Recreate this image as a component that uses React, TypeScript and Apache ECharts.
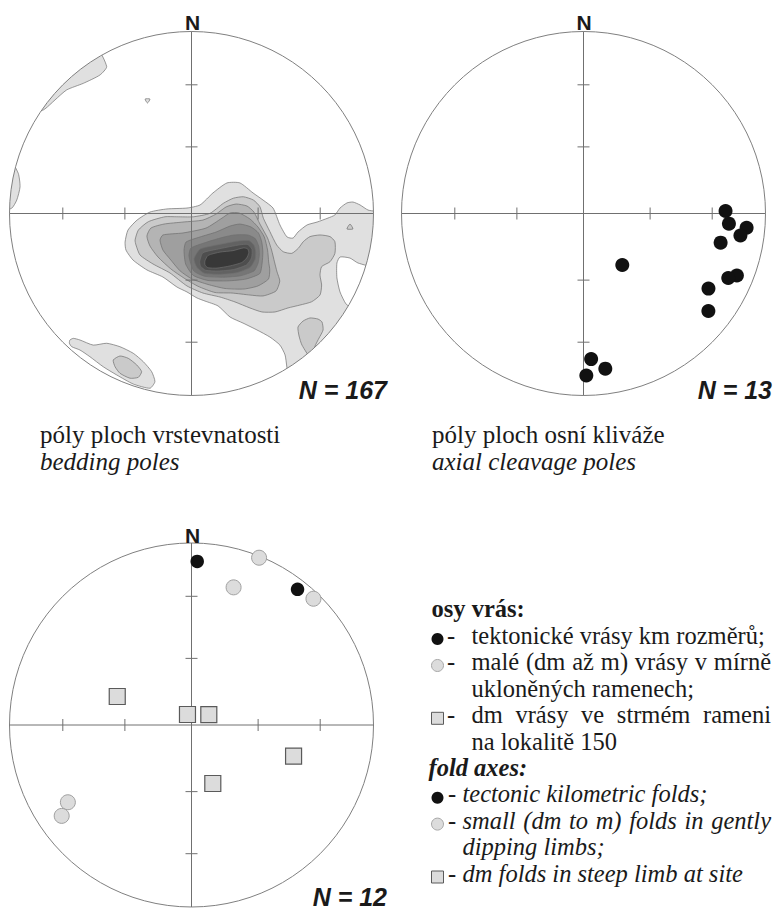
import { useEffect, useRef } from 'react';
import * as echarts from 'echarts';

// ---------- net definition ----------
const NET_RADIUS = 100; // primitive circle radius in net units
const TICK_PLUNGES = [30, 60]; // plunge values marked on the cross axes

// ---------- plot 2: axial cleavage poles [trend, plunge] ----------
const cleavagePoles: number[][] = [
  [89, 23], [94, 21], [95, 11], [98, 14], [102, 24], [143, 61], [112, 10],
  [114, 14], [121, 21], [128, 14], [177, 21], [172, 15], [179, 12],
];

// ---------- plot 3: fold axes [trend, plunge] ----------
const kmFoldAxes: number[][] = [[2, 11], [38, 6]];
const smallFoldAxes: number[][] = [[22, 1], [17, 22], [44, 4], [238, 21], [235, 14]];
const steepLimbFoldAxes: number[][] = [[291, 54], [339, 85], [59, 81], [107, 41], [160, 62]];

// ---------- plot 1: bedding-pole density contours (net units, % of primitive radius) ----------
const contourL1Main = [
  [-36.5, -15.7], [-34.9, -9.1], [-29.9, -3.6], [-22.8, 0.8], [-13.5, 2.5], [-2.5, 3.0], [4.7, 4.7],
  [11.8, 11.3], [19.5, 16.8], [26.6, 16.8], [33.8, 11.3], [39.3, 7.4], [44.8, 3.0], [48.6, -6.3],
  [52.5, -12.9], [55.8, -13.5], [58.5, -10.2], [63.5, -6.3], [69.0, -4.7], [75.0, -2.5], [78.8, -0.8],
  [81.6, 3.0], [85.4, 5.8], [88.7, 6.3], [92.6, 4.7], [97.0, 1.9], [105, 0], [104.0, -14.6],
  [100.9, -28.9], [91.5, -27.2], [87.1, -24.5], [81.6, -23.9], [79.9, -27.2], [79.9, -35.4],
  [81.6, -43.1], [84.9, -49.7], [90.0, -54.1], [74.2, -74.2], [54.1, -90.0], [51.4, -77.7],
  [48.6, -72.3], [43.1, -67.9], [36.0, -64.0], [28.3, -60.2], [21.2, -56.9], [14.6, -50.8],
  [7.4, -48.1], [3.0, -46.4], [-2.5, -43.1], [-8.0, -40.4], [-15.7, -34.9], [-24.5, -31.0],
  [-32.1, -25.6], [-36.0, -20.1],
];
const contourL1NW = [
  [-89.05, 55.64], [-72.94, 75.53], [-52.5, 90.93], [-46.6, 80.7], [-50.3, 76.1], [-59.5, 71.5],
  [-68.6, 67.9], [-75.0, 62.4], [-81.4, 56.9],
];
const contourL1W = [
  [-104.98, 1.83], [-103.7, 16.4], [-100.4, 30.7], [-95.2, 22.1], [-94.2, 14.7], [-96.0, 7.4], [-98.8, 2.9],
];
const contourL1Speck = [[-25.5, 62.9], [-22.8, 62.9], [-24.2, 60.7]];
const contourL1SW = [
  [-66.8, -69.5], [-64.9, -68.6], [-61.3, -69.5], [-54.0, -72.3], [-46.6, -71.3], [-39.3, -73.2],
  [-32.0, -76.8], [-26.5, -81.4], [-21.9, -86.9], [-20.1, -92.4], [-22.8, -96.0], [-32.0, -93.7],
  [-41.1, -88.7], [-48.5, -84.2], [-55.8, -78.7], [-61.3, -75.0], [-65.8, -73.2], [-67.1, -71.3],
];
const contourL2Main = [
  [-31.0, -14.6], [-29.2, -9.1], [-23.7, -4.5], [-14.6, -1.8], [-8.1, -1.8], [1.0, -1.8], [10.2, 0.1],
  [17.5, 5.6], [23.0, 8.4], [28.5, 9.2], [34.0, 7.4], [37.6, 3.7], [39.5, -2.6], [43.1, -10.0],
  [46.8, -17.3], [50.4, -21.0], [55.1, -21.9], [58.7, -19.1], [61.4, -15.5], [65.1, -12.7],
  [70.6, -11.8], [76.1, -12.7], [78.8, -15.5], [78.8, -21.9], [76.1, -26.5], [71.5, -29.2],
  [70.6, -33.8], [71.5, -39.3], [70.6, -44.8], [66.0, -48.5], [59.6, -50.3], [53.0, -51.9],
  [45.9, -54.1], [38.7, -54.1], [32.1, -51.9], [23.9, -48.6], [15.7, -45.9], [6.3, -43.7],
  [-2.5, -39.8], [-11.8, -32.7], [-21.2, -27.7], [-28.3, -22.8], [-30.5, -17.3],
];
const contourL2SE = [
  [58.5, -62.4], [61.3, -59.1], [65.1, -57.4], [69.5, -58.0], [71.7, -59.6], [72.3, -64.0],
  [70.1, -68.4], [67.9, -72.8], [66.0, -80.0], [60.7, -72.3], [59.1, -67.3],
];
const contourL2Drop = [[87.1, -5.8], [88.7, -8.5], [85.4, -8.5]];
const contourL2SW = [
  [-43.0, -80.5], [-39.3, -78.3], [-34.7, -79.6], [-30.1, -83.2], [-27.4, -86.9], [-29.2, -90.0],
  [-33.8, -90.5], [-39.3, -87.8], [-42.0, -84.2],
];
const contourL3 = [
  [-24.5, -12.4], [-22.3, -8.0], [-15.1, -5.8], [-4.7, -4.7], [6.3, -3.6], [13.5, -0.3], [19.0, 3.6],
  [24.5, 5.2], [30.5, 4.1], [34.3, 0.8], [37.6, -5.8], [41.8, -13.5], [44.0, -20.1], [45.6, -26.6],
  [47.0, -32.1], [48.5, -37.1], [46.4, -42.6], [39.3, -45.3], [32.1, -44.8], [22.3, -43.7],
  [12.9, -43.4], [3.6, -40.0], [-4.1, -35.5], [-11.3, -30.5], [-18.4, -23.9], [-22.8, -17.9],
];
const contourL4 = [
  [-17.3, -14.6], [-15.7, -11.8], [-4.7, -10.7], [8.0, -8.0], [16.8, -2.5], [21.2, 0.3], [26.1, 0.3],
  [32.1, -3.0], [36.5, -7.4], [40.0, -12.9], [41.8, -20.1], [42.4, -26.6], [43.0, -31.0], [42.3, -36.0],
  [36.5, -39.8], [28.8, -41.5], [18.4, -41.2], [9.1, -39.0], [0.3, -36.0], [-6.3, -31.5],
  [-11.8, -25.0], [-15.7, -20.1],
];
const contourL5 = [
  [-4.1, -20.1], [-3.0, -15.7], [4.7, -12.9], [13.5, -10.2], [21.2, -6.9], [26.6, -5.8], [32.7, -7.4],
  [36.8, -10.7], [38.6, -15.7], [39.2, -21.2], [38.8, -27.2], [37.5, -33.0], [29.9, -36.0],
  [20.1, -37.0], [9.1, -36.8], [1.0, -34.0], [-3.2, -27.8],
];
const contourL6 = [
  [-1.4, -23.4], [-0.3, -19.0], [6.9, -16.2], [15.7, -13.5], [23.4, -11.8], [31.0, -11.8], [35.0, -13.8],
  [36.9, -17.9], [37.3, -22.3], [36.6, -27.2], [34.4, -31.5], [27.0, -34.2], [17.9, -35.0],
  [7.4, -34.5], [1.2, -31.5],
];
const contourL7 = [
  [1.4, -25.0], [4.7, -19.6], [14.0, -17.3], [25.0, -15.2], [31.5, -14.9], [34.3, -17.4], [35.2, -20.6],
  [35.0, -25.0], [32.3, -29.5], [24.5, -32.6], [15.7, -33.4], [7.0, -32.8], [3.0, -29.6],
];
const contourL8 = [
  [4.5, -26.4], [6.3, -21.6], [15.7, -19.3], [26.6, -17.2], [30.8, -17.0], [33.2, -19.6], [33.0, -24.3],
  [30.3, -28.2], [23.0, -30.8], [14.6, -31.6], [7.8, -31.2], [5.0, -29.0],
];
const contourL9 = [
  [7.4, -26.0], [9.1, -23.0], [15.7, -21.2], [22.8, -20.4], [28.5, -18.9], [30.8, -19.4], [31.5, -21.5],
  [30.3, -24.5], [27.5, -27.0], [21.2, -28.8], [14.0, -30.0], [9.1, -29.8], [7.4, -28.3],
];

const CONTOUR_FILLS = ['#e0e0e0', '#cacaca', '#b4b4b4', '#9f9f9f', '#8a8a8a', '#767676', '#626262', '#4e4e4e', '#383838'];

const bedContours = [
  { level: 1, ring: contourL1Main }, { level: 1, ring: contourL1NW }, { level: 1, ring: contourL1W },
  { level: 1, ring: contourL1Speck }, { level: 1, ring: contourL1SW },
  { level: 2, ring: contourL2Main }, { level: 2, ring: contourL2SE }, { level: 2, ring: contourL2Drop },
  { level: 2, ring: contourL2SW },
  { level: 3, ring: contourL3 }, { level: 4, ring: contourL4 }, { level: 5, ring: contourL5 },
  { level: 6, ring: contourL6 }, { level: 7, ring: contourL7 }, { level: 8, ring: contourL8 },
  { level: 9, ring: contourL9 },
];

// ---------- texts ----------
const northLabel = 'N';
const countLabels = ['N = 167', 'N = 13', 'N = 12'];
const captionCz = ['póly ploch vrstevnatosti', 'póly ploch osní kliváže'];
const captionEn = ['bedding poles', 'axial cleavage poles'];
const legendTitleCz = 'osy vrás:';
const legendItemsCz = [
  ['tektonické vrásy km rozměrů;'],
  ['malé (dm až m) vrásy v mírně', 'ukloněných ramenech;'],
  ['dm vrásy ve strmém rameni', 'na lokalitě 150'],
];
const legendTitleEn = 'fold axes:';
const legendItemsEn = [
  ['tectonic kilometric folds;'],
  ['small (dm to m) folds in gently', 'dipping limbs;'],
  ['dm folds in steep limb at site'],
];

const SERIF = 'Liberation Serif';
const SANS = 'Liberation Sans';

function schmidt(tp: number[]) {
  const [trend, plunge] = tp;
  const r = NET_RADIUS * Math.SQRT2 * Math.sin(((90 - plunge) / 2) * Math.PI / 180);
  const t = trend * Math.PI / 180;
  return [r * Math.sin(t), r * Math.cos(t)];
}

let measureCtx: CanvasRenderingContext2D | null = null;
function measure(text: string, font: string) {
  if (!measureCtx) measureCtx = document.createElement('canvas').getContext('2d');
  measureCtx!.font = font;
  return measureCtx!.measureText(text).width;
}

function netRenderer(withMask: boolean) {
  return (_params: any, api: any) => {
    const c = api.coord([0, 0]);
    const R = api.size([NET_RADIUS, 0])[0];
    const children: any[] = [];
    if (withMask) {
      children.push({ type: 'ring', shape: { cx: c[0], cy: c[1], r: R * 1.09, r0: R }, style: { fill: '#ffffff' } });
    }
    children.push({ type: 'circle', shape: { cx: c[0], cy: c[1], r: R }, style: { fill: 'none', stroke: '#808080', lineWidth: 1 } });
    children.push({ type: 'line', shape: { x1: c[0] - R, y1: c[1], x2: c[0] + R, y2: c[1] }, style: { stroke: '#707070', lineWidth: 1 } });
    children.push({ type: 'line', shape: { x1: c[0], y1: c[1] - R, x2: c[0], y2: c[1] + R }, style: { stroke: '#707070', lineWidth: 1 } });
    TICK_PLUNGES.forEach((p) => {
      const r = R * Math.SQRT2 * Math.sin(((90 - p) / 2) * Math.PI / 180);
      [-1, 1].forEach((s) => {
        children.push({ type: 'line', shape: { x1: c[0] + s * r, y1: c[1] - 6, x2: c[0] + s * r, y2: c[1] + 6 }, style: { stroke: '#707070', lineWidth: 1 } });
        children.push({ type: 'line', shape: { x1: c[0] - 6, y1: c[1] + s * r, x2: c[0] + 6, y2: c[1] + s * r }, style: { stroke: '#707070', lineWidth: 1 } });
      });
    });
    return { type: 'group', children };
  };
}

function buildOption() {
  const grids = [
    { left: 9.5, top: 31.5, width: 364, height: 364 },
    { left: 401.5, top: 31.5, width: 364, height: 364 },
    { left: 9.5, top: 543, width: 364, height: 364 },
  ];
  const axis = grids.map((_, i) => ({ type: 'value', gridIndex: i, min: -NET_RADIUS, max: NET_RADIUS, show: false }));

  const series: any[] = [];
  series.push({
    type: 'custom', xAxisIndex: 0, yAxisIndex: 0, z: 2, silent: true,
    data: bedContours.map((_, i) => [0, 0, i]),
    renderItem: (params: any, api: any) => {
      const c = bedContours[params.dataIndex];
      return {
        type: 'polygon', z2: c.level,
        shape: { points: c.ring.map((p) => api.coord(p)), smooth: 0.2 },
        style: { fill: CONTOUR_FILLS[c.level - 1], stroke: '#6e6e6e', lineWidth: 0.7 },
      };
    },
  });
  [0, 1, 2].forEach((i) => {
    series.push({
      type: 'custom', xAxisIndex: i, yAxisIndex: i, z: 3, silent: true,
      data: [[0, 0]], renderItem: netRenderer(i === 0),
    });
  });
  const sc = (name: string, idx: number, data: number[][], symbol: string, size: number, itemStyle: any) => ({
    type: 'scatter', name, xAxisIndex: idx, yAxisIndex: idx, z: 4, silent: true,
    symbol, symbolSize: size, itemStyle: { opacity: 1, ...itemStyle },
    data: data.map(schmidt),
  });
  series.push(sc('axial cleavage poles', 1, cleavagePoles, 'circle', 14, { color: '#111111' }));
  series.push(sc('tectonic kilometric folds', 2, kmFoldAxes, 'circle', 13.5, { color: '#111111' }));
  series.push(sc('small folds', 2, smallFoldAxes, 'circle', 15, { color: '#dcdcdc', borderColor: '#a0a0a0', borderWidth: 1 }));
  series.push(sc('steep limb folds', 2, steepLimbFoldAxes, 'rect', 16, { color: '#dcdcdc', borderColor: '#5a5a5a', borderWidth: 1.2 }));

  // ---------- graphic texts ----------
  const g: any[] = [];
  const txt = (x: number, y: number, text: string, o: any = {}) =>
    g.push({ type: 'text', x, y, z: 100, silent: true, style: { text, fill: '#1a1a1a', textVerticalAlign: 'middle', textAlign: 'left', ...o } });

  const nStyle = { fontFamily: SANS, fontWeight: 'bold', fontSize: 21, textAlign: 'center' };
  txt(192.5, 22.7, northLabel, nStyle);
  txt(584, 22.7, northLabel, nStyle);
  txt(192.5, 535.8, northLabel, nStyle);

  const cStyle = { fontFamily: SANS, fontWeight: 'bold', fontStyle: 'italic', fontSize: 25, textAlign: 'right' };
  txt(387, 389.7, countLabels[0], cStyle);
  txt(772, 389.7, countLabels[1], cStyle);
  txt(387, 896.5, countLabels[2], cStyle);

  const capFs = 25;
  [40, 432].forEach((x, i) => {
    txt(x, 442.7 - 0.3375 * capFs, captionCz[i], { fontFamily: SERIF, fontSize: capFs });
    txt(x, 470 - 0.3375 * capFs, captionEn[i], { fontFamily: SERIF, fontSize: capFs, fontStyle: 'italic' });
  });

  // ---------- legend ----------
  const lFs = 24.5;
  const baselines = [617, 643.5, 670, 696.4, 722.8, 749.3, 775.7, 802.2, 828.6, 855, 881.5];
  const my = (b: number) => b - 0.3375 * lFs;
  const rightEdge = 771;
  const symbol = (kind: number, b: number) => {
    const cy = b - 4.5;
    if (kind === 0) g.push({ type: 'circle', z: 100, shape: { cx: 437.5, cy, r: 6 }, style: { fill: '#111111' } });
    if (kind === 1) g.push({ type: 'circle', z: 100, shape: { cx: 437.5, cy, r: 6 }, style: { fill: '#dcdcdc', stroke: '#a8a8a8', lineWidth: 1 } });
    if (kind === 2) g.push({ type: 'rect', z: 100, shape: { x: 431.5, y: cy - 6, width: 12, height: 12 }, style: { fill: '#dcdcdc', stroke: '#5a5a5a', lineWidth: 1 } });
  };
  const line = (text: string, x: number, b: number, italic: boolean, justify: boolean) => {
    const st: any = { fontFamily: SERIF, fontSize: lFs };
    if (italic) st.fontStyle = 'italic';
    if (!justify) { txt(x, my(b), text, st); return; }
    const font = `${italic ? 'italic ' : ''}${lFs}px "${SERIF}"`;
    const words = text.split(' ');
    const widths = words.map((w) => measure(w, font));
    const total = widths.reduce((a, w) => a + w, 0);
    const gap = (rightEdge - x - total) / (words.length - 1);
    let cx = x;
    words.forEach((w, i) => { txt(cx, my(b), w, st); cx += widths[i] + gap; });
  };

  let li = 0;
  txt(431.5, my(baselines[li++]), legendTitleCz, { fontFamily: SERIF, fontSize: lFs, fontWeight: 'bold' });
  legendItemsCz.forEach((item, k) => {
    symbol(k, baselines[li]);
    txt(447, my(baselines[li]), '-', { fontFamily: SERIF, fontSize: lFs });
    item.forEach((t, j) => { line(t, 471.5, baselines[li], false, item.length > 1 && j === 0); li++; });
  });
  txt(428.5, my(baselines[li++]), legendTitleEn, { fontFamily: SERIF, fontSize: lFs, fontWeight: 'bold', fontStyle: 'italic' });
  legendItemsEn.forEach((item, k) => {
    symbol(k, baselines[li]);
    txt(448, my(baselines[li]), '-', { fontFamily: SERIF, fontSize: lFs, fontStyle: 'italic' });
    item.forEach((t, j) => { line(t, 462.5, baselines[li], true, item.length > 1 && j === 0); li++; });
  });

  return {
    animation: false,
    backgroundColor: '#ffffff',
    grid: grids,
    xAxis: axis,
    yAxis: axis.map((a) => ({ ...a })),
    series,
    graphic: { elements: g },
  };
}

export default function App() {
  const ref = useRef<HTMLDivElement>(null);
  useEffect(() => {
    const chart = echarts.init(ref.current!, null, { renderer: 'svg' });
    chart.setOption(buildOption() as any);
    return () => chart.dispose();
  }, []);
  return (
    <div
      ref={ref}
      style={{ position: 'absolute', left: 0, top: 0, width: 773, height: 909, background: '#fff' }}
    />
  );
}
